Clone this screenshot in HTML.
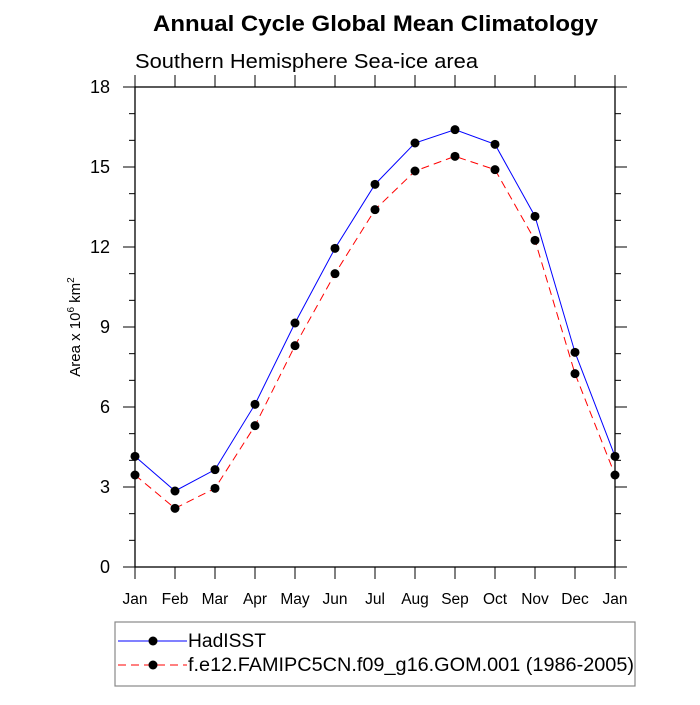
<!DOCTYPE html>
<html><head><meta charset="utf-8"><style>
body{margin:0;background:#fff}
svg text{font-family:"Liberation Sans",sans-serif}
</style></head><body>
<svg id="c" width="700" height="700" viewBox="0 0 700 700">
<text x="153" y="31" textLength="445" lengthAdjust="spacingAndGlyphs" font-size="22" font-weight="bold">Annual Cycle Global Mean Climatology</text>
<text x="135" y="68" textLength="343" lengthAdjust="spacingAndGlyphs" font-size="20">Southern Hemisphere Sea-ice area</text>
<text transform="translate(80,327) rotate(-90)" text-anchor="middle" font-size="15">Area x 10<tspan dy="-6" font-size="10">6</tspan><tspan dy="6"> km</tspan><tspan dy="-6" font-size="10">2</tspan></text>
<g id="axes"></g>
<g id="series"></g>
<g>
<rect x="115" y="622" width="520" height="64" fill="none" stroke="#888" stroke-width="1.2"/>
<g>
<line x1="118" y1="641" x2="187" y2="641" stroke="#0000ff" stroke-width="1"/>
<circle cx="153" cy="641" r="4.5" fill="#000"/>
<text x="188" y="647" textLength="78" lengthAdjust="spacingAndGlyphs" font-size="19">HadISST</text></g>
<g>
<line x1="118" y1="665" x2="187" y2="665" stroke="#ff0000" stroke-width="1" stroke-dasharray="8,5"/>
<circle cx="153" cy="665" r="4.5" fill="#000"/>
<text x="188" y="671" textLength="446" lengthAdjust="spacingAndGlyphs" font-size="19">f.e12.FAMIPC5CN.f09_g16.GOM.001 (1986-2005)</text></g>
</g>
</svg>
<script>
const months=["Jan","Feb","Mar","Apr","May","Jun","Jul","Aug","Sep","Oct","Nov","Dec","Jan"];
const hadisst=[4.15,2.85,3.65,6.1,9.15,11.95,14.35,15.9,16.4,15.85,13.15,8.05,4.15];
const model=[3.45,2.2,2.95,5.3,8.3,11.0,13.4,14.85,15.4,14.9,12.25,7.25,3.45];
const yTicks=[0,3,6,9,12,15,18];
const X0=135,X1=615,Y0=567,Y1=87,YMAX=18;
const xs=i=>X0+i*(X1-X0)/(months.length-1);
const ys=v=>Y0-v*(Y0-Y1)/YMAX;
const NS="http://www.w3.org/2000/svg";
function mk(t,a,p){const e=document.createElementNS(NS,t);for(const k in a)e.setAttribute(k,a[k]);p.appendChild(e);return e;}
const ax=document.getElementById('axes');
const fr=mk('rect',{x:X0,y:Y1,width:X1-X0,height:Y0-Y1,fill:'none',stroke:'#000','stroke-width':1.3},ax);


for(let v=0;v<=YMAX;v++){const maj=v%3===0;const L=maj?12:6;const y=ys(v);
mk('line',{x1:X0-L,y1:y,x2:X0,y2:y,stroke:'#000','stroke-width':1},ax);
mk('line',{x1:X1,y1:y,x2:X1+L,y2:y,stroke:'#000','stroke-width':1},ax);}
yTicks.forEach(v=>{const t=mk('text',{x:X0-25,y:ys(v)+6,'text-anchor':'end','font-size':18},ax);t.textContent=v;

});
months.forEach((m,i)=>{const x=xs(i);
mk('line',{x1:x,y1:Y0,x2:x,y2:Y0+12,stroke:'#000','stroke-width':1},ax);
mk('line',{x1:x,y1:Y1-12,x2:x,y2:Y1,stroke:'#000','stroke-width':1},ax);
const t=mk('text',{x:x,y:Y0+37,'text-anchor':'middle','font-size':15.5},ax);t.textContent=m;

});
const sg=document.getElementById('series');
function draw(vals,color,dash,name){const g=mk('g',{},sg);


mk('polyline',{points:vals.map((v,i)=>xs(i)+','+ys(v)).join(' '),fill:'none',stroke:color,'stroke-width':1,'stroke-dasharray':dash},g);
vals.forEach((v,i)=>{const c=mk('circle',{cx:xs(i),cy:ys(v),r:4.5,fill:'#000'},g);

});}
draw(hadisst,'#0000ff','none','series-hadisst');
draw(model,'#ff0000','8,5','series-model');
</script>
</body></html>
